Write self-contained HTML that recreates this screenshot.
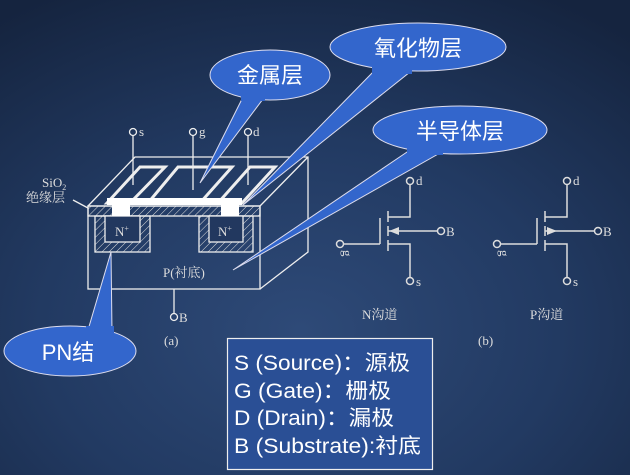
<!DOCTYPE html>
<html><head><meta charset="utf-8"><style>
html,body{margin:0;padding:0}
body{width:630px;height:475px;overflow:hidden;background:radial-gradient(ellipse 520px 380px at 300px 330px,#2e4a78 0%,#223a62 50%,#15243f 100%);}
svg{position:absolute;left:0;top:0}
.lbl{font-family:"Liberation Sans","Noto Sans CJK SC",sans-serif;fill:#fff}
.ser{font-family:"Liberation Serif","Noto Serif CJK SC",serif;fill:#ddd}
</style></head><body>
<svg width="630" height="475" viewBox="0 0 630 475">
<defs>
<pattern id="h" width="5" height="5" patternUnits="userSpaceOnUse" patternTransform="rotate(45)">
<line x1="0" y1="0" x2="0" y2="5" stroke="#ddd" stroke-width="1"/></pattern>
</defs>
<g stroke="#eee" stroke-width="1.3" fill="none">
<polyline points="88,206 135,157 308,157 308,252 260,289"/>
<line x1="260" y1="206" x2="308" y2="157"/>
<rect x="88" y="206" width="172" height="83"/>
<rect x="88" y="206" width="172" height="10" fill="url(#h)"/>
<rect x="95" y="216" width="55" height="36" fill="url(#h)"/>
<rect x="105" y="216" width="35" height="26" fill="#22385f"/>
<rect x="199" y="216" width="54" height="36" fill="url(#h)"/>
<rect x="209" y="216" width="34" height="26" fill="#22385f"/>
<polygon points="107,203 140,167 165,167 130,203" stroke-width="3"/>
<polygon points="148,203 178,167 232,167 200,203" stroke-width="3"/>
<polygon points="218,203 250,167 275,167 242,203" stroke-width="3"/>
<line x1="133" y1="136" x2="133" y2="185"/><circle cx="133" cy="132" r="3.5"/>
<line x1="193" y1="136" x2="193" y2="190"/><circle cx="193" cy="132" r="3.5"/>
<line x1="248" y1="136" x2="248" y2="185"/><circle cx="248" cy="132" r="3.5"/>
<line x1="174" y1="289" x2="174" y2="313"/><circle cx="174" cy="317" r="3.5"/>
<line x1="73" y1="200" x2="88" y2="208"/>
</g>
<g fill="#fff">
<rect x="107" y="198" width="135" height="7"/>
<rect x="112" y="198" width="18" height="18"/>
<rect x="221" y="198" width="18" height="18"/>
</g>
<g class="ser" font-size="13">
<text x="139" y="136">s</text><text x="199" y="136">g</text><text x="253" y="136">d</text>
<text x="179" y="322">B</text>
<text x="115" y="236">N<tspan dy="-5" font-size="8">+</tspan></text>
<text x="218" y="236">N<tspan dy="-5" font-size="8">+</tspan></text>
<text x="163" y="277">P(衬底)</text>
<text x="164" y="345">(a)</text>
<text x="42" y="187">SiO<tspan dy="3" font-size="8">2</tspan></text>
<text x="26" y="202">绝缘层</text>
<text x="478" y="345">(b)</text>
<text x="362" y="319">N沟道</text>
<text x="530" y="319">P沟道</text>
</g>
<g stroke="#ddd" stroke-width="1.5" fill="none">
<g id="n">
<circle cx="410" cy="181" r="3.5"/><polyline points="410,185 410,217 388,217"/>
<line x1="388" y1="211" x2="388" y2="222"/><line x1="388" y1="226" x2="388" y2="236"/><line x1="388" y1="240" x2="388" y2="251"/>
<line x1="380" y1="218" x2="380" y2="244"/><polyline points="380,244 344,244"/><circle cx="340" cy="244" r="3.5"/>
<line x1="388" y1="231" x2="437" y2="231"/><circle cx="441" cy="231" r="3.5"/>
<polyline points="388,244 410,244 410,277"/><circle cx="410" cy="281" r="3.5"/>
</g>
<use href="#n" x="157"/>
</g>
<polygon points="389,231 399,227 399,235" fill="#ddd"/>
<polygon points="557,231 547,227 547,235" fill="#ddd"/>
<g class="ser" font-size="13">
<text x="416" y="185">d</text><text x="446" y="236">B</text><text x="416" y="286">s</text>
<text x="573" y="185">d</text><text x="603" y="236">B</text><text x="573" y="286">s</text>
<text x="336" y="251" transform="rotate(90 340 254)">g</text>
<text x="493" y="251" transform="rotate(90 497 254)">g</text>
</g>
<g fill="#3366cc" stroke="#dde" stroke-width="1">
<path d="M243,97 L200,183 L263,99 Z"/>
<ellipse cx="270" cy="75" rx="60" ry="25"/>
<path d="M375,70 L243,205 L410,72 Z"/>
<ellipse cx="418" cy="47" rx="88" ry="24"/>
<path d="M410,150 L233,270 L440,153 Z"/>
<ellipse cx="460" cy="130" rx="87" ry="24"/>
<path d="M88,330 L111,252 L112,332 Z"/>
<ellipse cx="70" cy="351" rx="66" ry="25"/>
</g>
<g fill="#3366cc"><rect x="241" y="92" width="24" height="9"/><rect x="372" y="64" width="40" height="10"/><rect x="407" y="145" width="36" height="10"/><rect x="86" y="326" width="28" height="8"/></g>
<g class="lbl" font-size="22" text-anchor="middle">
<text x="270" y="83">金属层</text>
<text x="418" y="56">氧化物层</text>
<text x="460" y="139">半导体层</text>
<text x="68" y="360">PN结</text>
</g>
<rect x="227.5" y="338.5" width="205" height="131" fill="#2a4f95" stroke="#eee" stroke-width="1.2"/>
<g class="lbl" font-size="21">
<text x="234" y="370" textLength="176" lengthAdjust="spacingAndGlyphs">S (Source)：源极</text>
<text x="234" y="398" textLength="157" lengthAdjust="spacingAndGlyphs">G (Gate)：栅极</text>
<text x="234" y="425" textLength="160" lengthAdjust="spacingAndGlyphs">D (Drain)：漏极</text>
<text x="234" y="453" textLength="187" lengthAdjust="spacingAndGlyphs">B (Substrate):衬底</text>
</g>
</svg>
</body></html>
